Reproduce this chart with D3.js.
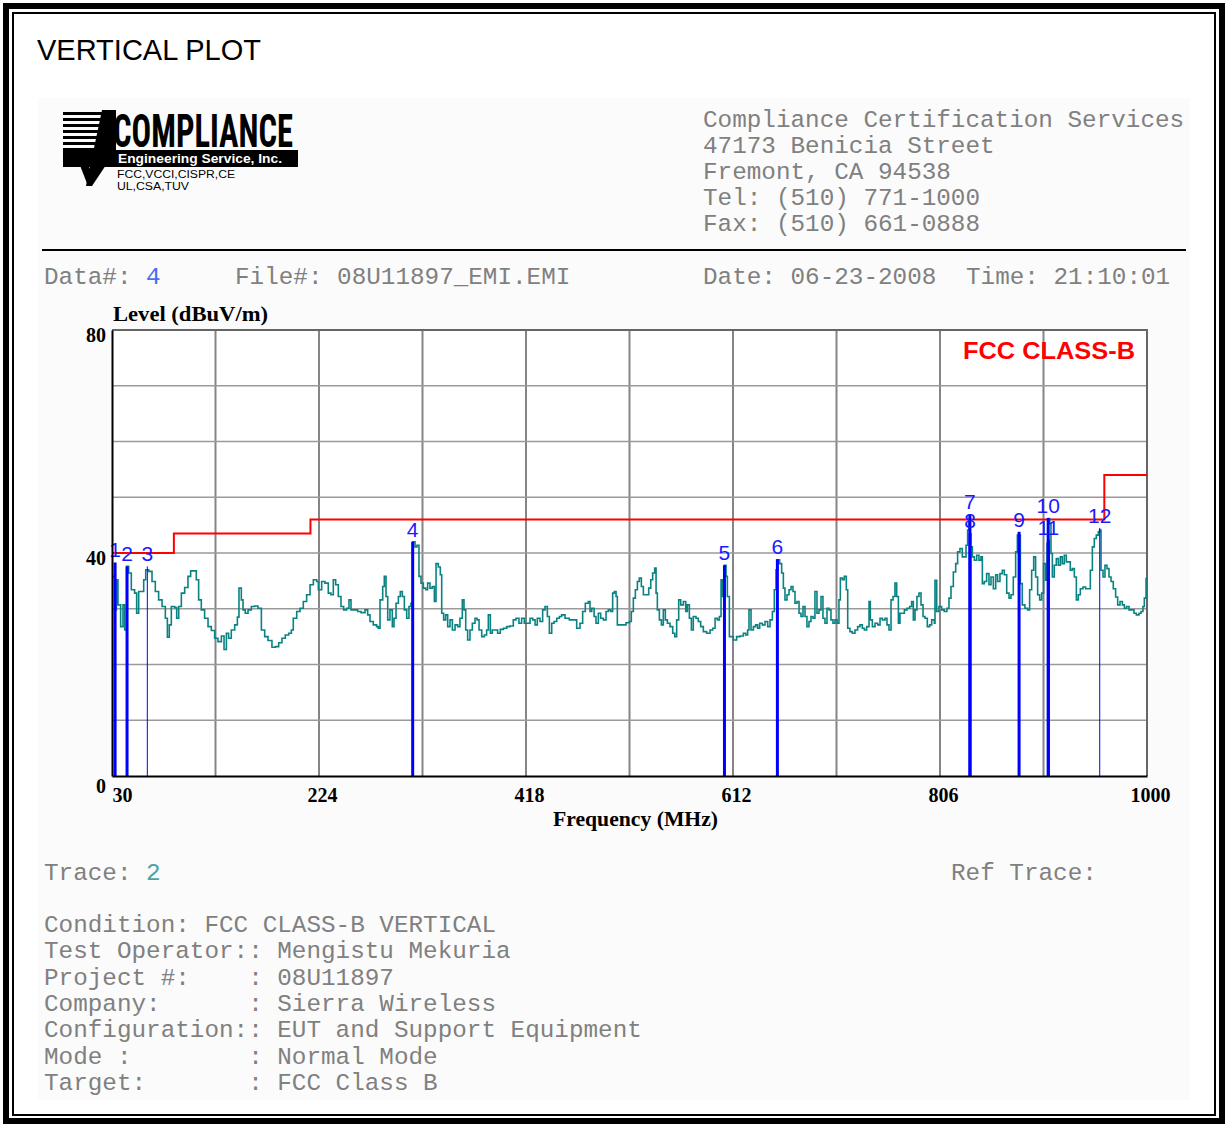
<!DOCTYPE html>
<html>
<head>
<meta charset="utf-8">
<script src="https://cdn.jsdelivr.net/npm/d3@7"></script>
<style>
  html, body { margin: 0; padding: 0; background: #ffffff; }
  svg { display: block; }
  .mono { font-family: "Liberation Mono", "Courier New", monospace; font-size: 24.3px; fill: #808080; }
  .axislbl { font-family: "Liberation Serif", "Times New Roman", serif; font-weight: bold; font-size: 20px; fill: #000; }
</style>
</head>
<body>
<svg id="page" width="1228" height="1125"></svg>
<script>
// ---- Radiated emission scan, vertical polarisation ----
const traceFreq = [
  30.9,32.5,34.1,35.6,38.1,40.3,41.9,43.7,45.6,48.1,51.2,53.1,55.0,58.1,59.7,61.6,64.4,67.5,70.6,73.7,
  76.9,80.0,81.9,83.7,85.6,88.7,90.6,92.5,95.0,98.1,101.2,103.7,106.8,109.0,111.2,113.7,116.8,120.0,123.1,126.2,
  129.3,132.5,135.0,137.2,139.3,141.8,145.0,147.5,149.0,151.2,152.8,154.9,157.5,160.6,163.7,166.8,170.0,173.1,176.2,179.9,
  183.1,186.2,189.3,192.4,195.6,198.1,199.9,203.1,206.2,209.3,212.4,215.6,218.7,221.8,
  223.4,226.5,229.6,232.7,235.2,237.4,239.6,242.1,244.6,247.1,249.9,252.1,254.0,257.1,260.2,263.4,267.1,269.6,271.8,274.9,
  278.0,279.6,281.2,283.7,285.2,286.8,288.4,290.5,292.7,294.3,296.2,298.4,300.2,302.1,304.0,306.2,308.3,310.2,311.8,314.0,
  315.8,317.7,319.6,321.8,324.0,325.8,328.0,330.2,332.1,333.7,335.8,337.7,339.0,340.8,342.7,344.6,346.8,349.0,351.5,354.0,
  356.1,358.3,359.9,361.5,363.3,365.5,367.7,370.2,372.1,374.0,376.5,379.0,381.1,382.7,384.6,386.4,389.0,391.4,393.9,396.8,
  399.9,403.0,406.1,408.6,411.4,413.9,416.4,
  419.3,421.8,424.3,426.5,428.6,431.1,433.6,435.8,438.0,439.9,442.1,444.3,446.8,449.3,451.4,454.6,458.6,462.4,465.5,468.6,
  471.1,473.6,476.4,478.0,479.6,481.8,483.6,485.8,488.0,490.5,493.0,495.2,497.4,499.2,500.8,502.4,503.6,506.1,509.2,511.7,
  514.9,516.7,518.6,520.5,522.4,524.2,526.1,528.0,530.5,533.0,534.9,536.7,538.6,539.9,541.1,543.0,544.9,546.7,548.6,550.5,
  553.0,555.5,557.4,559.2,561.1,563.0,565.5,567.7,569.2,571.1,573.0,574.8,577.3,579.5,581.7,584.2,587.3,590.5,593.0,595.2,
  597.3,599.2,600.8,602.3,603.9,605.5,606.7,608.6,
  610.1,612.3,615.4,618.6,621.7,623.9,625.7,627.0,628.9,631.1,633.2,635.1,637.0,639.5,642.0,644.5,646.7,648.9,650.7,652.3,
  653.9,655.7,657.6,659.2,660.7,662.6,664.5,666.4,668.2,670.1,672.0,673.9,675.7,677.6,679.5,681.3,683.2,685.1,687.0,688.8,
  690.7,692.6,694.5,696.3,698.2,700.1,702.0,703.8,705.7,707.6,709.5,711.3,712.6,714.5,716.3,718.2,719.5,721.6,723.8,726.3,
  728.8,731.0,733.2,735.1,737.3,739.5,740.7,742.6,745.1,747.6,749.8,752.0,754.5,756.3,758.2,760.1,762.0,763.8,765.4,767.0,
  768.5,770.1,772.6,775.1,777.6,779.4,781.0,782.6,784.4,786.3,788.2,790.1,791.9,794.1,796.3,798.2,800.7,
  801.3,802.9,805.0,807.5,810.0,812.5,814.4,816.3,818.5,820.7,822.5,824.7,826.9,828.8,830.4,831.9,833.2,834.4,836.3,838.2,
  840.4,842.5,844.4,845.7,847.5,849.7,851.9,853.8,856.0,858.2,860.0,862.2,864.4,866.3,868.5,870.7,872.5,874.7,876.9,878.5,
  880.0,881.3,883.1,885.6,888.1,890.0,891.9,893.8,895.6,897.5,899.4,901.3,903.1,905.0,906.3,907.5,908.8,910.0,911.3,913.1,
  915.0,916.9,918.8,920.6,922.5,924.4,926.3,928.1,930.0,931.9,933.8,935.6,937.5,940.0,942.5,945.0,946.9,948.8,950.6,952.5,
  954.4,955.6,956.9,958.8,960.6,962.5,964.4,966.3,968.4,970.6,972.5,974.7,976.9,978.8,980.9,983.1,985.6,987.8,990.0,992.5,
  994.4,996.2,997.5,999.1,1000.0
];
const traceLevel = [
  35.8,29.8,35.2,30.7,26.8,30.7,26.2,37.6,36.4,33.4,32.8,29.2,33.1,33.1,35.2,37.0,36.7,34.9,33.1,31.6,
  30.4,28.3,24.9,27.1,30.4,30.2,28.3,30.4,32.8,33.8,35.8,36.8,36.8,35.2,31.6,29.8,28.3,26.8,26.1,24.7,
  24.1,25.1,22.7,25.6,24.7,26.2,27.1,28.5,33.7,31.6,29.8,29.2,29.8,30.4,30.5,30.1,26.2,25.0,24.3,23.1,
  23.2,23.9,24.7,25.3,25.6,26.2,28.3,29.5,30.1,31.3,32.5,34.3,35.2,34.9,
  33.4,34.9,34.6,32.8,32.5,35.2,34.3,32.2,30.4,29.8,30.1,31.6,29.8,29.8,29.5,29.3,29.8,28.9,27.7,27.1,
  26.8,26.5,31.6,34.0,35.8,32.2,28.0,29.8,26.8,28.3,31.0,32.2,33.1,32.2,29.8,28.3,30.4,31.0,42.0,41.1,
  41.4,35.8,34.6,33.7,33.4,34.6,33.7,34.0,31.3,38.1,37.5,36.1,29.2,28.0,28.9,26.8,28.0,26.2,27.1,26.8,
  28.3,31.6,29.8,26.2,24.4,26.2,27.4,28.3,28.0,26.2,25.0,25.3,26.2,28.9,25.6,26.2,26.2,25.6,26.3,26.5,
  26.8,26.9,28.0,28.3,27.4,28.3,27.4,
  27.4,28.3,28.0,27.1,28.3,27.7,29.8,30.4,28.6,25.6,27.4,27.7,28.3,28.6,28.9,28.3,28.0,28.0,26.5,27.4,
  29.5,31.0,31.3,29.5,30.1,28.6,27.4,29.2,28.3,28.0,29.5,29.8,29.5,32.8,33.1,32.2,27.1,27.1,27.1,27.5,
  27.7,29.5,31.9,33.4,34.9,35.5,34.0,32.5,32.5,33.7,35.2,36.4,37.3,32.8,29.8,28.0,27.1,29.8,28.0,27.4,
  26.8,25.6,25.0,28.0,31.6,30.7,31.3,29.5,30.7,28.3,26.2,28.6,28.3,27.7,26.8,25.9,25.6,26.2,26.5,28.3,
  28.0,28.6,35.2,32.2,37.8,35.8,32.2,25.0,
  25.0,24.4,25.0,25.1,25.6,25.3,26.2,29.8,26.2,26.8,27.1,26.5,27.4,27.1,27.7,26.8,28.0,29.5,33.4,37.0,
  38.8,38.1,36.4,33.7,31.6,32.5,33.4,34.0,33.1,31.0,31.3,29.2,28.6,30.4,28.6,26.8,27.7,28.6,28.3,33.1,
  29.2,29.8,32.2,28.3,27.4,30.1,29.8,28.0,27.4,28.0,27.4,31.6,35.5,35.2,35.8,33.4,26.5,25.9,25.6,26.2,
  26.8,27.1,26.5,26.2,26.8,31.3,28.0,26.8,27.4,27.1,28.3,28.0,28.3,27.1,26.2,31.6,32.2,34.6,32.2,27.4,
  29.2,29.2,29.8,30.1,30.4,31.3,28.0,29.8,32.2,32.8,30.7,28.6,28.3,26.8,27.1,28.0,27.4,
  35.1,29.5,30.4,29.8,29.5,30.1,31.9,34.0,36.6,38.1,40.2,40.8,39.3,39.3,41.4,44.1,45.9,41.1,39.3,38.7,
  39.6,38.7,39.3,34.5,34.9,36.3,34.3,35.7,33.6,36.1,34.9,36.3,36.9,36.1,32.8,31.9,32.5,35.7,40.2,43.2,
  43.2,34.5,30.7,30.1,29.8,33.4,36.9,39.3,35.7,32.5,31.6,32.8,38.1,35.1,41.7,46.2,45.3,39.9,35.7,37.8,
  39.0,37.8,39.3,38.1,39.6,38.4,38.4,36.9,37.2,35.7,31.6,32.5,33.6,33.9,33.6,33.6,36.9,41.1,42.6,43.2,
  43.8,44.1,36.9,35.7,37.8,37.2,35.7,34.9,33.6,32.1,30.7,31.3,30.7,30.1,30.4,29.8,29.8,29.2,28.9,29.2,
  29.5,30.4,31.9,35.4,35.7
];

// FCC Part 15 Class B limit (3 m), stepped
const limitFreq  = [30, 88, 216, 960, 1000];
const limitLevel = [40, 43.5, 46, 54, 54];

// Marked peaks
const markerNo    = ["1","2","3","4","5","6","7","8","9","10","11","12"];
const markerFreq  = [32.9, 44.1, 63.1, 311.8, 604.0, 653.6, 834.0, 834.2, 880.1, 907.4, 907.6, 955.7];
const markerLevel = [38.3, 37.6, 37.6, 42.0, 37.8, 38.9, 47.0, 43.6, 43.8, 46.3, 42.3, 44.5];

// Axes
const xTicks = [30, 224, 418, 612, 806, 1000];
const xGrid  = [127, 224, 321, 418, 515, 612, 709, 806, 903];
const yTicks = [0, 40, 80];
const yGrid  = [10, 20, 30, 40, 50, 60, 70];

// Report text
const companyLines = ["Compliance Certification Services", "47173 Benicia Street",
                      "Fremont, CA 94538", "Tel: (510) 771-1000", "Fax: (510) 661-0888"];
const infoLines = ["Condition: FCC CLASS-B VERTICAL", "Test Operator:: Mengistu Mekuria",
                   "Project #:    : 08U11897", "Company:      : Sierra Wireless",
                   "Configuration:: EUT and Support Equipment", "Mode :        : Normal Mode",
                   "Target:       : FCC Class B"];

const svg = d3.select("#page");

// page frame: heavy outer rule plus thin inner rule
svg.append("rect").attr("x", 6).attr("y", 6).attr("width", 1216).attr("height", 1115)
  .attr("fill", "none").attr("stroke", "#000").attr("stroke-width", 6);
svg.append("rect").attr("x", 13).attr("y", 13).attr("width", 1202).attr("height", 1102)
  .attr("fill", "none").attr("stroke", "#000").attr("stroke-width", 2);

svg.append("text").attr("x", 37).attr("y", 60)
  .style("font-family", "'Liberation Sans', Arial, sans-serif").style("font-size", "29px")
  .text("VERTICAL PLOT");

// report sheet background
svg.append("rect").attr("x", 38).attr("y", 98).attr("width", 1152).attr("height", 1002).attr("fill", "#fbfbfb");

// ---- logo ----
const logo = svg.append("g");
d3.range(0, 9).forEach(i => {
  logo.append("rect").attr("x", 63).attr("y", 112 + i * 6).attr("width", 44).attr("height", 3).attr("fill", "#000");
});
logo.append("polygon").attr("points", "102,110 116,110 116,150 92,186 86,186").attr("fill", "#000");
logo.append("polygon").attr("points", "74,150 83,150 91,172 88,186").attr("fill", "#000");
logo.append("rect").attr("x", 63).attr("y", 150).attr("width", 235).attr("height", 17).attr("fill", "#000");
logo.append("text").attr("x", 113).attr("y", 147).attr("textLength", 180).attr("lengthAdjust", "spacingAndGlyphs")
  .style("font-family", "'Liberation Sans Narrow', 'Roboto Condensed', 'Liberation Sans', sans-serif")
  .style("font-weight", "bold").style("font-size", "46px").text("COMPLIANCE");
logo.append("text").attr("x", 118).attr("y", 163).attr("textLength", 164).attr("lengthAdjust", "spacingAndGlyphs")
  .style("font-family", "'Liberation Sans', sans-serif").style("font-weight", "bold").style("font-size", "13px")
  .attr("fill", "#fff").text("Engineering Service, Inc.");
logo.append("text").attr("x", 117).attr("y", 178).attr("textLength", 118).attr("lengthAdjust", "spacingAndGlyphs")
  .style("font-family", "'Liberation Sans', sans-serif").style("font-size", "10px").text("FCC,VCCI,CISPR,CE");
logo.append("text").attr("x", 117).attr("y", 190).attr("textLength", 72).attr("lengthAdjust", "spacingAndGlyphs")
  .style("font-family", "'Liberation Sans', sans-serif").style("font-size", "10px").text("UL,CSA,TUV");

// company address block
svg.append("g").selectAll("text").data(companyLines).join("text")
  .attr("class", "mono").attr("x", 703).attr("y", (d, i) => 127 + i * 26).text(d => d);

svg.append("line").attr("x1", 42).attr("x2", 1186).attr("y1", 250).attr("y2", 250)
  .attr("stroke", "#000").attr("stroke-width", 2);

// header line of the record
const hdr = svg.append("text").attr("class", "mono").attr("y", 284);
hdr.append("tspan").attr("x", 44).text("Data#: ");
hdr.append("tspan").style("fill", "#4a6cf0").text("4");
svg.append("text").attr("class", "mono").attr("x", 235).attr("y", 284).text("File#: 08U11897_EMI.EMI");
svg.append("text").attr("class", "mono").attr("x", 703).attr("y", 284).text("Date: 06-23-2008");
svg.append("text").attr("class", "mono").attr("x", 966).attr("y", 284).text("Time: 21:10:01");

// ---- plot ----
const x = d3.scaleLinear().domain([30, 1000]).range([112, 1147]);
const y = d3.scaleLinear().domain([0, 80]).range([776, 330]);

svg.append("rect").attr("x", 112).attr("y", 330).attr("width", 1035).attr("height", 446).attr("fill", "#fff");

const grid = svg.append("g");
grid.selectAll("line.v").data(xGrid).join("line").attr("class", "v")
  .attr("x1", d => x(d)).attr("x2", d => x(d)).attr("y1", 330).attr("y2", 776)
  .attr("stroke", "#858585").attr("stroke-width", 2);
grid.selectAll("line.h").data(yGrid).join("line").attr("class", "h")
  .attr("x1", 112).attr("x2", 1147).attr("y1", d => y(d)).attr("y2", d => y(d))
  .attr("stroke", "#9a9a9a").attr("stroke-width", 1.5);
// top and right frame
svg.append("path").attr("d", `M112,${y(80)}H${x(1000)}V${y(0)}`)
  .attr("fill", "none").attr("stroke", "#666").attr("stroke-width", 2);

// limit line
svg.append("path")
  .datum(limitFreq.map((f, i) => [f, limitLevel[i]]))
  .attr("d", d3.line().x(d => x(d[0])).y(d => y(d[1])).curve(d3.curveStepAfter))
  .attr("fill", "none").attr("stroke", "#ff0000").attr("stroke-width", 2);

// measured trace
svg.append("path")
  .datum(traceFreq.map((f, i) => [f, traceLevel[i]]))
  .attr("d", d3.line().x(d => x(d[0])).y(d => y(d[1])).curve(d3.curveStepAfter))
  .attr("fill", "none").attr("stroke", "#0a8282").attr("stroke-width", 1.6);

// markers
const thinMarkers = new Set(["3", "12"]);
const mk = svg.append("g");
markerNo.forEach((n, i) => {
  mk.append("line")
    .attr("x1", x(markerFreq[i])).attr("x2", x(markerFreq[i]))
    .attr("y1", y(0)).attr("y2", y(markerLevel[i]))
    .attr("stroke", "#0000ff").attr("stroke-width", thinMarkers.has(n) ? 1 : 3);
});
markerNo.forEach((n, i) => {
  mk.append("text")
    .attr("x", x(markerFreq[i])).attr("y", y(markerLevel[i]) - 5)
    .attr("text-anchor", "middle")
    .style("font-family", "'Liberation Sans', Arial, sans-serif").style("font-size", "21px")
    .attr("fill", "#1a1aff").text(n);
});

// axes
const xAxis = svg.append("g").attr("transform", `translate(0,${y(0)})`)
  .call(d3.axisBottom(x).tickValues(xTicks).tickSize(0).tickFormat(d3.format("d")));
xAxis.select(".domain").attr("stroke", "#000").attr("stroke-width", 2);
xAxis.selectAll("text").attr("class", "axislbl").attr("dy", null).attr("y", 26)
  .attr("dx", d => d === 30 ? 0 : 3)
  .attr("text-anchor", d => d === 30 ? "start" : "middle");

const yAxis = svg.append("g").attr("transform", `translate(${x(30)},0)`)
  .call(d3.axisLeft(y).tickValues(yTicks).tickSize(0).tickFormat(d3.format("d")));
yAxis.select(".domain").attr("stroke", "#000").attr("stroke-width", 2);
yAxis.selectAll("text").attr("class", "axislbl").attr("x", -6).attr("dy", "0.85em")
  .attr("transform", d => `translate(0,${d === 0 ? -1 : -6})`);

svg.append("text").attr("class", "axislbl").attr("x", 113).attr("y", 321)
  .attr("textLength", 155).attr("lengthAdjust", "spacingAndGlyphs")
  .text("Level (dBuV/m)");
svg.append("text").attr("class", "axislbl").attr("x", 553).attr("y", 826)
  .attr("textLength", 165).attr("lengthAdjust", "spacingAndGlyphs")
  .text("Frequency (MHz)");

svg.append("text").attr("x", 963).attr("y", 359)
  .attr("textLength", 172).attr("lengthAdjust", "spacingAndGlyphs")
  .style("font-family", "'Liberation Sans', Arial, sans-serif").style("font-weight", "bold")
  .style("font-size", "24px").attr("fill", "#ff0000").text("FCC CLASS-B");

// ---- footer ----
const tr = svg.append("text").attr("class", "mono").attr("y", 880);
tr.append("tspan").attr("x", 44).text("Trace: ");
tr.append("tspan").style("fill", "#4aa3a3").text("2");
svg.append("text").attr("class", "mono").attr("x", 951).attr("y", 880).text("Ref Trace:");

svg.append("g").selectAll("text").data(infoLines).join("text")
  .attr("class", "mono").attr("x", 44).attr("y", (d, i) => 932 + i * 26.3)
  .attr("xml:space", "preserve").style("white-space", "pre").text(d => d);
</script>
</body>
</html>
